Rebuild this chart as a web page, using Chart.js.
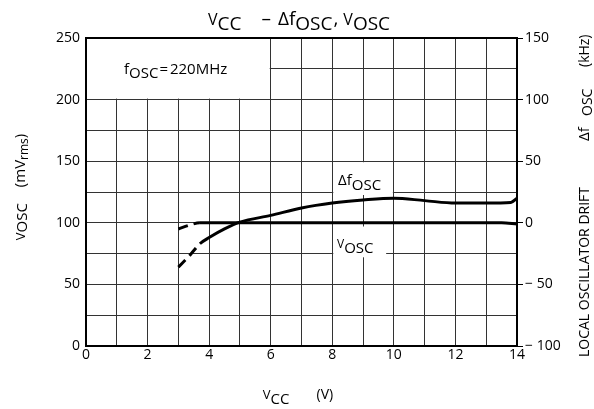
<!DOCTYPE html>
<html><head><meta charset="utf-8">
<script src="https://cdn.jsdelivr.net/npm/chart.js@4/dist/chart.umd.min.js"></script>
<style>html,body{margin:0;padding:0;background:#fff}#wrap{width:594px;height:409px}</style>
</head><body><div id="wrap"><canvas id="c" width="594" height="409"></canvas></div>
<script>
// ---- data ----
const vccVosc   = [3, 3.35, 3.7, 4, 6, 8, 10, 12, 13.5, 14];
const vosc      = [95, 98, 100, 100, 100, 100, 100, 100, 100, 99];      // mVrms (left axis)
const vccDrift  = [3, 3.35, 3.7, 4, 4.5, 5, 6, 7, 8, 9, 10, 11, 12, 13, 13.8, 14];
const drift     = [-36, -27, -17, -12, -5, 0.5, 6, 12, 16, 18.5, 20, 18, 16, 16, 16.5, 20]; // kHz (right axis)
const dashedUpTo = 3.7;   // both curves drawn dashed below this Vcc
const xTicks  = [0, 2, 4, 6, 8, 10, 12, 14];
const yLeftTicks  = [0, 50, 100, 150, 200, 250];
const yRightTicks = [-100, -50, 0, 50, 100, 150];

const FONT = '"Open Sans", "Noto Sans", sans-serif';
const f = (s) => s + 'px ' + FONT;

function rich(ctx, parts, x, y, align, rot) {
  ctx.save();
  ctx.translate(x, y);
  if (rot) ctx.rotate(rot);
  let total = 0;
  parts.forEach(p => { ctx.font = p.f; p.w = ctx.measureText(p.t).width + (p.gap || 0); total += p.w; });
  let cx = align === 'center' ? -total / 2 : 0;
  ctx.textBaseline = 'alphabetic'; ctx.textAlign = 'left'; ctx.fillStyle = '#000';
  parts.forEach(p => { ctx.font = p.f; ctx.fillText(p.t, cx, p.dy || 0); cx += p.w; });
  ctx.restore();
}

const decor = {
  id: 'decor',
  beforeDraw(chart) {
    const ctx = chart.ctx;
    ctx.save(); ctx.fillStyle = '#fff'; ctx.fillRect(0, 0, chart.width, chart.height); ctx.restore();
  },
  beforeDatasetsDraw(chart) {
    const ctx = chart.ctx, x = chart.scales.x, y = chart.scales.y;
    ctx.save();
    ctx.fillStyle = '#fff';
    // annotation box (0..6 V, 200..250)
    ctx.fillRect(x.getPixelForValue(0) + 1, y.getPixelForValue(250) + 1,
                 x.getPixelForValue(6) - x.getPixelForValue(0) - 2, y.getPixelForValue(200) - y.getPixelForValue(250) - 2);
    // label box for delta f
    ctx.fillRect(x.getPixelForValue(8) + 1, y.getPixelForValue(150) + 1,
                 x.getPixelForValue(10) - x.getPixelForValue(8) - 2, y.getPixelForValue(125) - y.getPixelForValue(150) + 2);
    // label box for Vosc
    ctx.fillRect(x.getPixelForValue(8) + 1, y.getPixelForValue(97) ,
                 x.getPixelForValue(9.75) - x.getPixelForValue(8) - 1, y.getPixelForValue(72) - y.getPixelForValue(97));
    ctx.restore();
    rich(ctx, [{t: 'f', f: f(15)}, {t: 'OSC', f: f(15), dy: 4, gap: 1}, {t: '=', f: f(15), gap: 2}, {t: '220MHz', f: f(15)}], 124, 74, 'left');
    rich(ctx, [{t: 'Δf', f: f(15)}, {t: 'OSC', f: f(15), dy: 5}], 338, 185, 'left');
    rich(ctx, [{t: 'V', f: f(12)}, {t: 'OSC', f: f(15), dy: 5}], 337, 248, 'left');
  },
  afterDraw(chart) {
    const ctx = chart.ctx, a = chart.chartArea;
    ctx.save();
    ctx.strokeStyle = '#000'; ctx.lineWidth = 2;
    ctx.strokeRect(a.left, a.top, a.right - a.left, a.bottom - a.top);
    ctx.restore();
    // chart title
    rich(ctx, [{t: 'V', f: f(16)}, {t: 'CC', f: f(19), dy: 5, gap: 20}, {t: '–', f: f(19), gap: 7},
               {t: 'Δf', f: f(19)}, {t: 'OSC', f: f(19), dy: 5, gap: 1}, {t: ',', f: f(19), gap: 5},
               {t: 'V', f: f(16)}, {t: 'OSC', f: f(19), dy: 5}], 299, 25, 'center');
    // x axis title
    rich(ctx, [{t: 'V', f: f(13)}, {t: 'CC', f: f(15), dy: 5, gap: 27}, {t: '(V)', f: f(14)}], 298, 399, 'center');
    // left axis title
    rich(ctx, [{t: 'V', f: f(13)}, {t: 'OSC', f: f(15), dy: 2, gap: 16}, {t: '(mV', f: f(15)},
               {t: 'rms', f: f(12), dy: 3}, {t: ')', f: f(15)}], 25, 187, 'center', -Math.PI / 2);
    // right axis title
    ctx.save();
    ctx.fillStyle = '#000'; ctx.textBaseline = 'alphabetic'; ctx.textAlign = 'left';
    const put = (txt, size, xb, ys, maxW) => {
      ctx.save(); ctx.translate(xb, ys); ctx.rotate(-Math.PI / 2); ctx.font = f(size);
      if (maxW) ctx.fillText(txt, 0, 0, maxW); else ctx.fillText(txt, 0, 0); ctx.restore();
    };
    put('LOCAL OSCILLATOR DRIFT', 14, 589, 357, 170);
    put('Δf', 15, 589, 141);
    put('OSC', 14, 592, 116);
    put('(kHz)', 14, 589, 67, 37);
    ctx.restore();
  }
};

const dashSeg = (ctx) => (ctx.p1.parsed.x <= dashedUpTo ? [10, 6] : undefined);

new Chart(document.getElementById('c'), {
  type: 'line',
  data: {
    datasets: [
      { label: 'VOSC', yAxisID: 'y', data: vccVosc.map((v, i) => ({x: v, y: vosc[i]})),
        borderColor: '#000', borderWidth: 3, pointRadius: 0, tension: 0.4, cubicInterpolationMode: 'monotone',
        fill: false, segment: {borderDash: dashSeg} },
      { label: 'ΔfOSC', yAxisID: 'y2', data: vccDrift.map((v, i) => ({x: v, y: drift[i]})),
        borderColor: '#000', borderWidth: 3, pointRadius: 0, tension: 0.4, cubicInterpolationMode: 'monotone',
        fill: false, segment: {borderDash: dashSeg} }
    ]
  },
  options: {
    responsive: false, animation: false, devicePixelRatio: 1,
    layout: {padding: {top: 38, left: 0, right: 0, bottom: 0}},
    plugins: {legend: {display: false}, title: {display: false}, tooltip: {enabled: false}},
    scales: {
      x: { type: 'linear', min: 0, max: 14,
           afterFit: s => { s.height = 63; },
           afterBuildTicks: s => { s.ticks = Array.from({length: 15}, (_, i) => ({value: i})); },
           ticks: { autoSkip: false, maxRotation: 0, padding: 1, color: '#000', font: {family: FONT, size: 14},
                    callback: v => (xTicks.includes(v) ? String(v) : '') },
           grid: { color: '#333', lineWidth: 1, drawTicks: false },
           border: { display: false } },
      y: { position: 'left', min: 0, max: 250,
           afterFit: s => { s.width = 86; },
           afterBuildTicks: s => { s.ticks = Array.from({length: 11}, (_, i) => ({value: i * 25})); },
           ticks: { autoSkip: false, padding: 6, color: '#000', font: {family: FONT, size: 14},
                    callback: v => (yLeftTicks.includes(v) ? String(v) : '') },
           grid: { color: '#333', lineWidth: 1, drawTicks: false },
           border: { display: false } },
      y2: { position: 'right', min: -100, max: 150,
            afterFit: s => { s.width = 77; },
            afterBuildTicks: s => { s.ticks = yRightTicks.map(v => ({value: v})); },
            ticks: { autoSkip: false, padding: 2, color: '#000', font: {family: FONT, size: 14},
                     callback: v => (v < 0 ? '− ' + Math.abs(v) : String(v)) },
            grid: { drawOnChartArea: false, color: '#000', lineWidth: 1, tickLength: 6 },
            border: { display: false } }
    }
  },
  plugins: [decor]
});
</script></body></html>
